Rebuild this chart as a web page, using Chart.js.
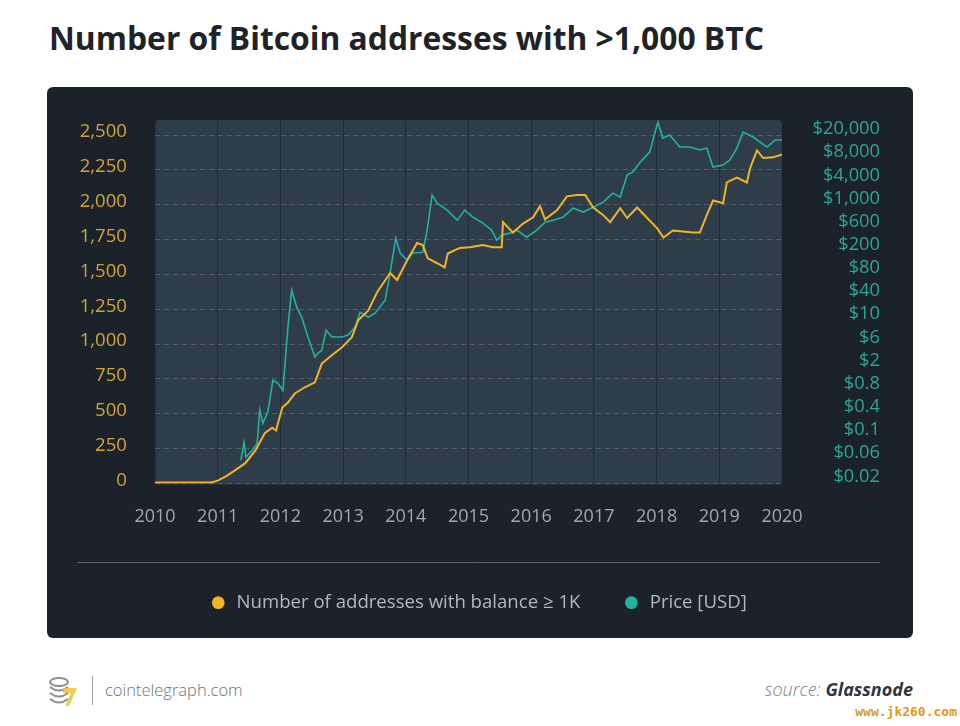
<!DOCTYPE html>
<html lang="en">
  <head>
    <meta charset="UTF-8" />
    <title>Number of Bitcoin addresses with >1,000 BTC</title>
    <script src="https://cdn.jsdelivr.net/npm/chart.js@4.4.1/dist/chart.umd.min.js"></script>
    <style>
      body {
        margin: 0;
        width: 960px;
        height: 726px;
        background: #fff;
        font-family: "Open Sans", sans-serif;
        position: relative;
        overflow: hidden;
      }
      h1 {
        position: absolute;
        left: 49px;
        top: 16px;
        margin: 0;
        font-size: 31.8px;
        font-weight: 700;
        color: #1f2328;
      }
      #card {
        position: absolute;
        left: 47px;
        top: 87px;
        width: 866px;
        height: 551px;
        background: #1b222a;
        border-radius: 6px;
      }
      #logo { position: absolute; left: 46px; top: 674px; }
      #sep { position: absolute; left: 92px; top: 676px; width: 1px; height: 29px; background: #9aa0a5; }
      #site { position: absolute; left: 105px; top: 678px; font-size: 16.5px; color: #6d7379; font-weight: 300; }
      #source { position: absolute; right: 47px; top: 677px; font-size: 18px; font-style: italic; color: #7d8287; font-weight: 300; }
      #source b { color: #30363c; font-weight: 700; }
      #mark { position: absolute; right: 3px; top: 704px; font-family: "DejaVu Sans Mono", monospace; font-weight: 700; font-size: 13px; color: #dc9b18; }
    </style>
  </head>
  <body>
    <h1>Number of Bitcoin addresses with &gt;1,000 BTC</h1>
    <div id="card"><canvas id="myChart"></canvas></div>

    <svg id="logo" width="34" height="34" viewBox="0 0 34 34">
      <g fill="none" stroke="#8c9197" stroke-width="2">
        <ellipse cx="13" cy="8" rx="9" ry="4" />
        <path d="M4 13 q9 7 18 0" />
        <path d="M4 19 q9 7 18 0" />
        <path d="M4 25 q9 7 18 0" />
      </g>
      <path d="M17 14 h14 l-8 18 h-4 l6 -13 h-8 z" fill="#f0c23a" opacity="0.85" />
    </svg>
    <div id="sep"></div>
    <div id="site">cointelegraph.com</div>
    <div id="source">source: <b>Glassnode</b></div>
    <div id="mark">www.jk260.com</div>

    <script>
      // number of addresses holding >= 1K BTC
      const addrYears = [
        2010.0, 2010.5, 2010.9, 2011.0, 2011.13, 2011.28, 2011.44, 2011.6, 2011.75, 2011.87,
        2011.93, 2012.03, 2012.12, 2012.23, 2012.39, 2012.55, 2012.66, 2012.82, 2012.98, 2013.14,
        2013.24, 2013.4, 2013.54, 2013.75, 2013.86, 2014.02, 2014.18, 2014.27, 2014.35, 2014.5,
        2014.62, 2014.67, 2014.86, 2015.02, 2015.23, 2015.39, 2015.53, 2015.55, 2015.71, 2015.87,
        2016.03, 2016.14, 2016.22, 2016.41, 2016.57, 2016.73, 2016.86, 2016.99, 2017.15, 2017.26,
        2017.42, 2017.53, 2017.69, 2017.85, 2018.01, 2018.11, 2018.26, 2018.58, 2018.69, 2018.8,
        2018.9, 2019.06, 2019.12, 2019.28, 2019.44, 2019.49, 2019.6, 2019.7, 2019.86, 2020.0,
      ];
      const addrCounts = [
        7, 7, 7, 20, 50, 95, 145, 235, 360, 400,
        380, 545, 580, 645, 690, 725, 860, 920, 975, 1050,
        1170, 1240, 1370, 1510, 1460, 1600, 1725, 1710, 1615, 1580,
        1550, 1650, 1690, 1695, 1710, 1695, 1695, 1875, 1800, 1865,
        1910, 1990, 1895, 1960, 2060, 2070, 2070, 1980, 1925, 1875,
        1975, 1905, 1980, 1905, 1830, 1765, 1815, 1800, 1800, 1925,
        2030, 2010, 2160, 2195, 2160, 2260, 2390, 2335, 2340, 2360,
      ];

      // price in USD, right (log) axis
      const priceYears = [
        2011.37, 2011.42, 2011.45, 2011.55, 2011.63, 2011.67, 2011.72, 2011.8, 2011.88, 2011.96,
        2012.04, 2012.12, 2012.18, 2012.26, 2012.34, 2012.44, 2012.55, 2012.6, 2012.66, 2012.73,
        2012.82, 2012.98, 2013.08, 2013.19, 2013.27, 2013.4, 2013.51, 2013.67, 2013.75, 2013.84,
        2013.91, 2014.02, 2014.11, 2014.27, 2014.34, 2014.42, 2014.5, 2014.66, 2014.82, 2014.94,
        2015.07, 2015.23, 2015.37, 2015.45, 2015.53, 2015.66, 2015.77, 2015.93, 2016.09, 2016.22,
        2016.35, 2016.51, 2016.67, 2016.83, 2016.99, 2017.15, 2017.3, 2017.42, 2017.53, 2017.62,
        2017.74, 2017.89, 2018.02, 2018.1, 2018.21, 2018.37, 2018.53, 2018.69, 2018.8, 2018.9,
        2019.06, 2019.17, 2019.28, 2019.38, 2019.54, 2019.76, 2019.89, 2020.0,
      ];
      const priceUsd = [
        0.038, 0.077, 0.043, 0.056, 0.074, 0.28, 0.165, 0.26, 0.91, 0.81,
        0.61, 7.5, 33, 16.7, 11.2, 5.1, 2.3, 2.7, 3.0, 6.7,
        5.1, 5.1, 5.5, 7.5, 13.7, 11.2, 13.2, 22, 65, 261,
        144, 109, 144, 149, 358, 1445, 1050, 795, 533, 795,
        601, 473, 358, 240, 294, 318, 358, 271, 358, 493,
        533, 601, 861, 735, 896, 1092, 1563, 1334, 3200, 3606,
        5370, 8000, 26400, 13970, 15740, 9770, 9770, 8670, 9380, 4400,
        4770, 5830, 9380, 17740, 14530, 9770, 12900, 12900,
      ];

      const priceTickLabels = [
        "$0.02", "$0.06", "$0.1", "$0.4", "$0.8", "$2", "$6", "$10",
        "$40", "$80", "$200", "$600", "$1,000", "$4,000", "$8,000", "$20,000",
      ];

      const YELLOW = "#f2b424";
      const TEAL = "#22b2a2";

      Chart.defaults.font.family = '"Open Sans", sans-serif';

      const plotBackground = {
        id: "plotBackground",
        beforeDraw(chart) {
          const { ctx, chartArea: a } = chart;
          ctx.save();
          ctx.fillStyle = "#2f3d4b";
          ctx.beginPath();
          ctx.roundRect(a.left, a.top, a.right - a.left, a.bottom - a.top + 1, 4);
          ctx.fill();
          // thin rule above the legend
          const y = Math.round(chart.legend.top + 11) + 0.5;
          ctx.strokeStyle = "#56626d";
          ctx.lineWidth = 1;
          ctx.beginPath();
          ctx.moveTo(30, y);
          ctx.lineTo(833, y);
          ctx.stroke();
          ctx.restore();
        },
      };

      // let layout.padding alone decide where the plot area sits
      function noEdgePadding(s) {
        s.paddingTop = 0;
        s.paddingBottom = 0;
      }

      const ctx = document.getElementById("myChart").getContext("2d");
      const myChart = new Chart(ctx, {
        type: "line",
        data: {
          datasets: [
            {
              label: "Number of addresses with balance \u2265 1K",
              data: addrYears.map((x, i) => ({ x, y: addrCounts[i] })),
              borderColor: YELLOW,
              backgroundColor: YELLOW,
              borderWidth: 2,
              pointRadius: 0,
              tension: 0,
              yAxisID: "y",
            },
            {
              label: "Price [USD]",
              data: priceYears.map((x, i) => ({ x, y: priceUsd[i] })),
              borderColor: TEAL,
              backgroundColor: TEAL,
              borderWidth: 1.6,
              pointRadius: 0,
              tension: 0,
              yAxisID: "price",
            },
          ],
        },
        options: {
          responsive: true,
          maintainAspectRatio: false,
          animation: false,
          layout: { padding: { top: 33, bottom: 16, left: 29, right: 33 } },
          plugins: {
            tooltip: { enabled: false },
            legend: {
              position: "bottom",
              labels: {
                usePointStyle: true,
                pointStyle: "circle",
                boxWidth: 18,
                boxHeight: 9,
                padding: 42,
                color: "#b3b8bd",
                font: { size: 18.6 },
                generateLabels: (chart) =>
                  chart.data.datasets.map((d, i) => ({
                    text: d.label,
                    fillStyle: d.borderColor,
                    strokeStyle: d.borderColor,
                    fontColor: "#b3b8bd",
                    lineWidth: 0,
                    pointStyle: "circle",
                    datasetIndex: i,
                    hidden: false,
                  })),
              },
            },
          },
          scales: {
            x: {
              type: "linear",
              min: 2010,
              max: 2020,
              afterFit(s) {
                s.height = 68;
                s.paddingLeft = 0;
                s.paddingRight = 0;
              },
              ticks: {
                stepSize: 1,
                padding: 23,
                color: "#a2a8ae",
                font: { size: 18 },
                maxRotation: 0,
                autoSkip: false,
                callback: (v) => String(v),
              },
              grid: { color: "rgba(18,26,34,0.4)", drawTicks: false },
              border: { display: false },
            },
            y: {
              position: "left",
              min: 0,
              max: 2608,
              afterFit(s) {
                s.width = 79;
                noEdgePadding(s);
              },
              ticks: {
                stepSize: 250,
                includeBounds: false,
                autoSkip: false,
                padding: 28,
                labelOffset: -3,
                color: "#d2a33b",
                font: { size: 18.6 },
                callback: (v) => v.toLocaleString("en-US"),
              },
              grid: { color: "rgba(255,255,255,0.17)", drawTicks: false },
              border: { display: false, dash: [5, 4] },
            },
            price: {
              type: "logarithmic",
              position: "right",
              min: 0.0151,
              max: 28640,
              afterFit(s) {
                s.width = 98;
                noEdgePadding(s);
              },
              afterBuildTicks(s) {
                s.ticks = priceTickLabels.map((_, i) => ({
                  value: 0.02 * Math.pow(10, 0.4 * i),
                }));
              },
              ticks: {
                autoSkip: false,
                padding: 0,
                crossAlign: "far",
                color: "#2ba697",
                font: { size: 18.3 },
                callback: (v, i) => priceTickLabels[i],
              },
              grid: { display: false, drawTicks: false },
              border: { display: false },
            },
          },
        },
        plugins: [plotBackground],
      });
    </script>
  </body>
</html>
